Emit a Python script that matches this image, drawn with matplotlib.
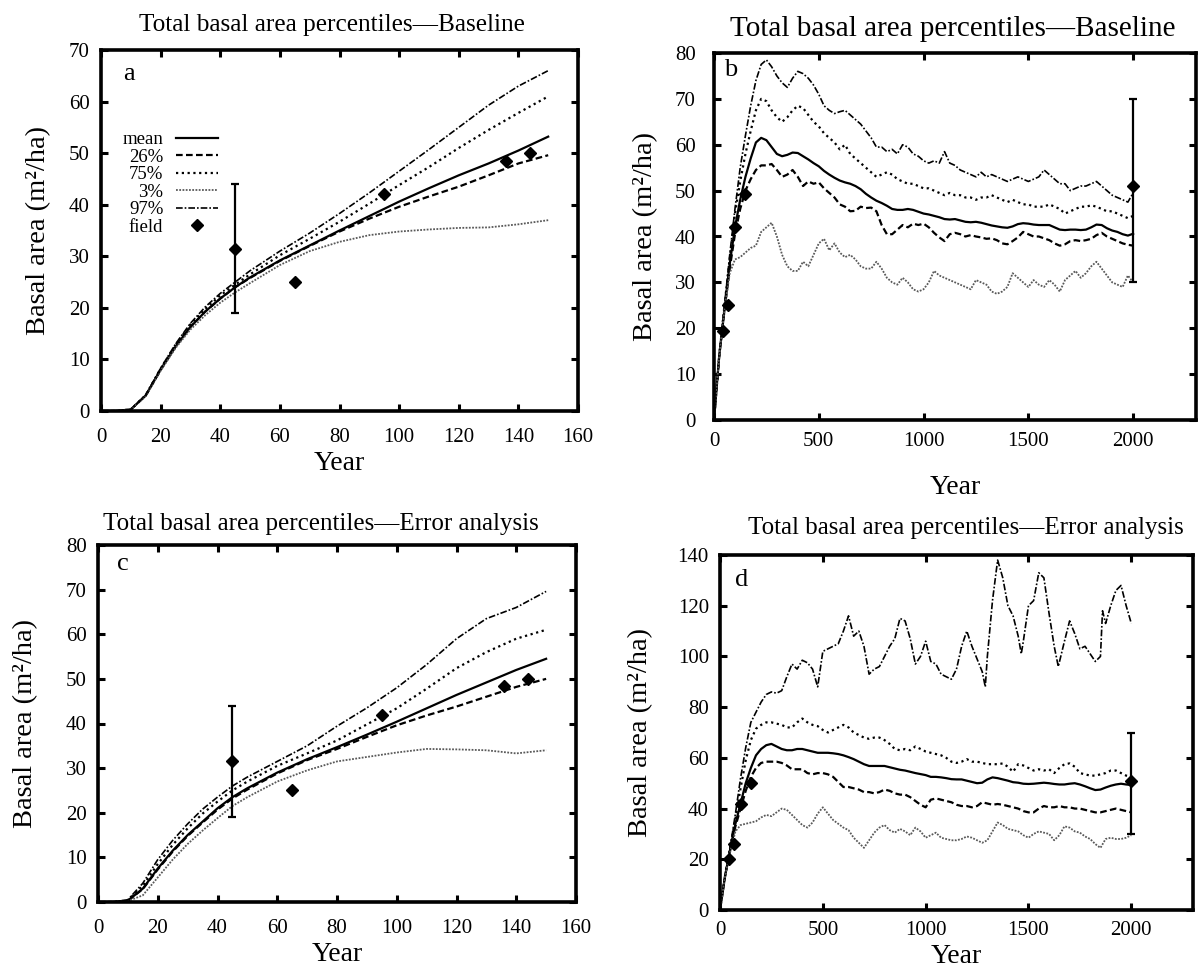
import numpy as np
import matplotlib
matplotlib.use("Agg")
import matplotlib.pyplot as plt

plt.rcParams['font.family'] = ['Liberation Serif', 'DejaVu Serif']

# ---------------- Panel a / c : first 150 years ----------------
years_short = [0, 5, 10, 15, 20, 25, 30, 35, 40, 45, 50, 60, 70, 80, 90, 100, 110, 120, 130, 140, 150]

a_mean = [0, 0, 0.3, 3.0, 8.0, 12.5, 16.3, 19.3, 21.8, 24.0, 25.9, 29.2, 32.1, 35.0, 37.8, 40.6, 43.2, 45.7, 48.0, 50.5, 53.2]
a_p26  = [0, 0, 0.3, 3.0, 8.0, 12.5, 16.3, 19.3, 21.8, 24.0, 25.8, 29.1, 32.0, 34.8, 37.3, 39.6, 41.6, 43.5, 45.7, 48.0, 49.6]
a_p75  = [0, 0, 0.3, 3.1, 8.2, 12.8, 16.8, 19.8, 22.4, 24.5, 26.5, 30.2, 33.4, 36.7, 40.2, 43.8, 47.3, 51.0, 54.5, 57.8, 61.0]
a_p3   = [0, 0, 0.3, 2.9, 7.8, 12.2, 15.8, 18.6, 21.0, 23.0, 24.8, 28.3, 31.0, 32.8, 34.1, 34.8, 35.2, 35.5, 35.6, 36.2, 37.0]
a_p97  = [0, 0, 0.3, 3.1, 8.3, 13.0, 17.0, 20.2, 22.8, 25.0, 27.2, 31.0, 34.5, 38.3, 42.3, 46.5, 50.7, 55.0, 59.3, 63.0, 66.0]

c_mean = [0, 0, 0.3, 3.0, 7.5, 11.5, 15.0, 18.0, 21.0, 23.5, 25.5, 29.0, 32.0, 34.7, 37.5, 40.4, 43.4, 46.4, 49.2, 52.0, 54.5]
c_p26  = [0, 0, 0.3, 2.9, 7.3, 11.3, 14.8, 17.8, 20.7, 23.2, 25.2, 28.8, 31.8, 34.3, 37.0, 39.6, 41.8, 43.8, 46.0, 48.2, 50.0]
c_p75  = [0, 0, 0.4, 3.6, 8.5, 12.8, 16.5, 19.8, 22.5, 25.0, 27.0, 30.5, 33.3, 36.2, 39.8, 43.4, 47.8, 52.4, 56.0, 59.0, 61.0]
c_p3   = [0, 0, 0.2, 1.5, 5.5, 9.5, 13.0, 16.0, 18.8, 21.5, 23.5, 27.0, 29.5, 31.5, 32.5, 33.5, 34.3, 34.2, 34.0, 33.3, 34.0]
c_p97  = [0, 0, 0.5, 4.2, 9.5, 13.8, 17.5, 20.8, 23.5, 26.0, 28.0, 31.5, 35.0, 39.4, 43.5, 48.0, 53.2, 59.0, 63.5, 66.0, 69.6]

field_years_ac = [45, 65, 95, 136, 144]
field_vals_ac  = [31.5, 25.0, 42.0, 48.5, 50.0]
err_year_ac = 45
err_low_ac, err_high_ac = 19.0, 44.0

# ---------------- Panel b / d : 2000 years ----------------
years_long = list(range(0, 2001, 25))

b_p97 = [0, 14, 25, 36, 46, 55, 62, 68.5, 74, 77.5, 78.5, 77, 75, 73.5, 72.5, 74.5, 76, 75.5, 74.5, 73,
         71, 68.5, 67.5, 66.8, 67.2, 67.5, 66.5, 65.5, 64.5, 63, 61.5, 59.5, 59.5, 58.5, 59, 58, 60, 59.5, 58, 57.5,
         56.5, 56, 56.5, 56, 58.5, 56, 55.5, 54.5, 54, 53.5, 53, 54, 53, 53.5, 53, 52.5, 52, 52.5, 53, 52.5,
         52, 52.5, 53, 54.5, 53.5, 52.5, 51.5, 51.5, 50, 50.5, 51, 51, 51.5, 52, 51, 50, 49, 48.5, 48, 47.5, 49.5]
b_p75 = [0, 14, 25, 35, 45, 52, 58, 63, 67.5, 70, 69.5, 67.5, 66, 65, 66, 67.5, 68.5, 68, 66.5, 65,
         64, 62.5, 61.5, 60.5, 59, 60, 58, 57, 56, 55, 54, 53, 53.5, 54, 53.5, 52.5, 52, 51.5, 51.5, 51,
         50.5, 50.5, 50, 49.5, 49, 49.5, 49, 49, 48.5, 48.5, 48, 48.5, 48.5, 49, 48.5, 48, 47.5, 48, 47.5, 47,
         47, 46.5, 46.5, 46.5, 47, 46.5, 46, 45, 45.5, 46, 46.5, 46.5, 46.8, 46.5, 46, 45.5, 45.5, 45, 44.5, 44, 44.5]
b_mean = [0, 14, 24, 34, 42, 48, 53, 57, 60.5, 61.5, 61, 59.5, 58, 57.5, 57.8, 58.3, 58.2, 57.5, 56.8, 56,
          55.3, 54.3, 53.5, 52.8, 52.2, 51.8, 51.5, 51, 50.3, 49.3, 48.5, 47.8, 47.3, 46.7, 46, 45.8, 45.8, 46, 45.8, 45.4,
          45, 44.8, 44.5, 44.2, 43.8, 43.7, 43.8, 43.5, 43.2, 43.1, 43.2, 43, 42.7, 42.4, 42.2, 42, 41.9, 42.2, 42.7, 42.9,
          42.8, 42.6, 42.5, 42.5, 42.5, 42, 41.5, 41.4, 41.5, 41.5, 41.4, 41.5, 42, 42.6, 42.5, 41.8, 41.3, 41, 40.5, 40.2, 40.6]
b_p26 = [0, 14, 24, 33, 40.5, 46, 50, 52.5, 54.5, 55.5, 55.5, 55.8, 54.5, 53, 53.5, 54.5, 53, 51, 52, 51.5,
         51.8, 50.5, 49.5, 48.5, 47, 46.5, 45.5, 45.6, 46.5, 46.2, 46.3, 45.5, 42.5, 40.5, 40.5, 41.5, 42.5, 42, 42.8, 42.5,
         42.8, 42, 40.8, 39.8, 39, 40.5, 40.8, 40.5, 40, 40.3, 40, 39.8, 39.5, 39.6, 39.2, 38.5, 38.3, 39, 39.8, 41,
         40.5, 40, 40, 39.6, 39.2, 38.5, 38, 38.3, 39, 39.2, 39, 39.2, 39.5, 40.3, 40.8, 40, 39.5, 39, 38.5, 38.2, 38]
b_p3 = [0, 14, 24, 32, 35, 35.5, 36.5, 37.5, 38, 41, 42, 43, 40, 36, 33.5, 32.5, 32.5, 34.5, 33.5, 36,
        38.5, 39.5, 37, 38.5, 36.5, 35.5, 36, 35, 33.5, 33, 33, 34.5, 33, 31, 30, 29.5, 31, 30, 28.5, 28,
        28.5, 30, 32.5, 31.5, 31, 30.5, 30, 29.5, 29, 28.5, 30.5, 30, 29.5, 28, 27.5, 28, 29, 32, 31, 30,
        29, 30.5, 29.5, 29, 30.5, 29.5, 28, 30.5, 31.5, 32.5, 31, 32, 33.5, 34.5, 33, 31.5, 30, 29.5, 29, 31.5, 30]

field_years_b = [43, 67, 100, 148]
field_vals_b  = [19.3, 25.0, 42.0, 49.3]
field_years_d = [45, 67, 100, 149]
field_vals_d  = [20.0, 26.0, 42.0, 50.0]
err_year_bd = 2000
err_val_b, err_low_b, err_high_b = 51.0, 30.0, 70.0
err_val_d, err_low_d, err_high_d = 51.0, 30.0, 70.0

years_d97 = [0, 25, 50, 75, 100, 125, 150, 175, 200, 225, 250, 275, 300, 325, 350, 375, 400, 425, 450, 475,
             500, 525, 550, 575, 600, 625, 650, 675, 700, 725, 750, 775, 800, 825, 850, 875, 900, 925, 950, 975,
             1000, 1025, 1050, 1075, 1100, 1125, 1150, 1175, 1200, 1225, 1250, 1275, 1290, 1300, 1325, 1350, 1375,
             1400, 1425, 1450, 1465, 1475, 1500, 1525, 1550, 1575, 1600, 1625, 1645, 1675, 1700, 1725, 1750, 1775,
             1800, 1825, 1850, 1860, 1875, 1900, 1925, 1950, 1975, 2000]
d_p97 = [0, 14, 25, 38, 52, 64, 74, 78, 82, 85, 86, 85.5, 86.5, 92, 97, 95, 98.5, 97.5, 95, 88,
         102, 103, 104, 105, 110, 116, 108, 110, 104, 93, 95, 96, 100, 104, 107, 115, 114, 107, 97, 100,
         106, 98, 97, 93, 92, 91, 95, 104, 110, 104, 99, 94, 88, 100, 122, 138, 131,
         120, 116, 108, 101, 106, 120, 122, 133, 131, 117, 104, 96, 106, 114, 109, 103, 104,
         101, 98, 100, 118, 113, 120, 126, 128, 120, 113]
d_p75 = [0, 14, 25, 36, 48, 59, 67, 71.5, 73, 74, 74, 73.5, 73, 72, 72, 74, 75.5, 74, 73, 72.5,
         71, 70, 71, 72, 73, 72, 70, 69, 68, 67.5, 68, 68, 67, 65.5, 63.5, 63, 63.5, 63, 64.5, 63.5,
         62.5, 62, 61.5, 61, 60, 58.5, 58, 58.5, 59.5, 58.5, 58.5, 58, 57.5, 57.5, 57.5, 57.8, 56.5, 54.5, 57.5, 57,
         56, 55, 55.5, 55, 55.5, 54, 56, 57.5, 57.8, 56.5, 54, 53.5, 53, 53, 53.5, 54, 55, 55, 54, 53, 52.5]
d_mean = [0, 13.5, 24, 34, 42, 50, 56, 61, 63.5, 65, 65.5, 64.5, 63.5, 63, 63, 63.5, 63.5, 63, 62.5, 62,
          62, 62, 61.8, 61.5, 61, 60.3, 59.5, 58.5, 57.5, 56.8, 56.8, 56.8, 56.8, 56.3, 55.8, 55.3, 55, 54.5, 54, 53.6,
          53.2, 52.5, 52.5, 52.3, 52, 51.6, 51.5, 51.5, 51, 50.5, 50, 50.2, 51.5, 52.3, 52, 51.5, 51, 50.4, 50.2, 49.8,
          49.7, 49.8, 50, 50.2, 50, 49.7, 49.5, 49.5, 49.8, 50, 49.5, 48.8, 48, 47.3, 47.5, 48.3, 49, 49.5, 49.8, 49.5, 49.3]
d_p26 = [0, 13.5, 24, 33, 40, 47, 52.5, 56, 58, 58.5, 58.5, 58.5, 58, 57, 55.5, 55.5, 55.5, 54, 53.5, 54,
         54, 53.5, 52.5, 50.5, 48.5, 48.5, 48, 47.5, 46.5, 46.5, 46, 46.5, 47.5, 47, 46, 45.5, 45.5, 44.5, 43, 41.5,
         40.5, 43.5, 44, 43.5, 43, 42.5, 41.5, 41, 41, 40.5, 41, 42.5, 42, 41.5, 41.8, 41.5, 41, 40.5, 40, 39,
         38.5, 38.5, 40, 41, 40.5, 40.5, 41, 40.5, 40.5, 40, 40, 39.5, 39, 38.5, 38.5, 39, 39.5, 40, 39.5, 39, 38.5]
d_p3 = [0, 13.5, 23, 31, 33.5, 34, 34.5, 35, 36.5, 37.5, 37, 38.5, 40, 39.5, 37.5, 35.5, 33.5, 32.5, 34.5, 38,
        40.5, 38, 35.5, 34, 32.5, 31.5, 28.5, 26.5, 24.5, 27.5, 30.5, 32.5, 33.5, 31.5, 30.5, 32, 31, 29.5, 32.5, 31,
        28.5, 29.5, 30.5, 28.5, 28, 27.5, 27.5, 28, 29, 28.5, 27.5, 26.5, 27.5, 31, 34.5, 33.5, 32, 31.5, 31, 29.5,
        28.5, 30, 31, 30.5, 30, 27.5, 29.5, 33, 32.5, 31, 30.5, 29, 28, 26, 24.5, 28, 28.5, 28, 28, 28.5, 29.5]

# ---------------- Styles ----------------
st_mean = dict(color='black', lw=1.6, ls='-')
st_p26 = dict(color='black', lw=1.6, ls=(0, (3, 1.5)))
st_p75 = dict(color='black', lw=1.6, ls=(0, (1, 1.6)))
st_p3 = dict(color='0.35', lw=1.3, ls=(0, (1, 0.8)))
st_p97 = dict(color='black', lw=1.2, ls=(0, (4, 1.2, 1, 1.2)))

W, H = 1203, 973
fig = plt.figure(figsize=(W / 100, H / 100), dpi=100)


def add_ax(l, r, t, b):
    return fig.add_axes([l / W, 1 - b / H, (r - l) / W, (b - t) / H])


ax_a = add_ax(101, 578, 50, 411)
ax_b = add_ax(714, 1196, 53, 420)
ax_c = add_ax(98, 576, 545, 902)
ax_d = add_ax(720, 1193, 555, 910)


def style(ax, xlim, ylim, xticks, yticks, title, letter, lpos,
          xpad=10, ypad=8, xlabelpad=3, ylabelpad=8,
          title_x=0.5, title_size=18, title_pad=14):
    ax.set_xlim(*xlim)
    ax.set_ylim(*ylim)
    ax.set_xticks(xticks)
    ax.set_yticks(yticks)
    for s in ax.spines.values():
        s.set_linewidth(2.6)
    ax.tick_params(direction='in', length=5, width=2.2, top=True, right=True,
                   labelsize=15)
    ax.tick_params(axis='x', pad=xpad)
    ax.tick_params(axis='y', pad=ypad)
    ax.set_xlabel('Year', fontsize=20, labelpad=xlabelpad)
    ax.set_ylabel('Basal area (m²/ha)', fontsize=20.5, labelpad=ylabelpad)
    ax.set_title(title, fontsize=title_size, pad=title_pad, x=title_x)
    ax.text(lpos[0], lpos[1], letter, transform=ax.transAxes, fontsize=19,
            ha='center', va='center')


def draw_short(ax, mean, p26, p75, p3, p97, legend=False):
    ax.plot(years_short, mean, label='mean', **st_mean)
    ax.plot(years_short, p26, label='26%', **st_p26)
    ax.plot(years_short, p75, label='75%', **st_p75)
    ax.plot(years_short, p3, label='3%', **st_p3)
    ax.plot(years_short, p97, label='97%', **st_p97)
    ax.errorbar([err_year_ac], [field_vals_ac[0]],
                yerr=[[field_vals_ac[0] - err_low_ac], [err_high_ac - field_vals_ac[0]]],
                fmt='none', ecolor='black', elinewidth=1.6, capsize=3, capthick=1.6)
    ax.plot(field_years_ac, field_vals_ac, ls='none', marker='D', ms=6,
            color='black', label='field')
    if legend:
        ax.legend(loc='upper left', bbox_to_anchor=(0.045, 0.775), frameon=False,
                  markerfirst=False, fontsize=13.5, labelspacing=0.02,
                  handlelength=2.2, handletextpad=0.7, borderpad=0, borderaxespad=0)


draw_short(ax_a, a_mean, a_p26, a_p75, a_p3, a_p97, legend=True)
style(ax_a, (0, 160), (0, 70), range(0, 161, 20), range(0, 71, 10),
      'Total basal area percentiles—Baseline', 'a', (0.059, 0.933),
      xpad=12, ypad=8, ylabelpad=13, title_x=0.485, title_size=18.2, title_pad=14)

draw_short(ax_c, c_mean, c_p26, c_p75, c_p3, c_p97)
style(ax_c, (0, 160), (0, 80), range(0, 161, 20), range(0, 81, 10),
      'Total basal area percentiles—Error analysis', 'c', (0.052, 0.946),
      xpad=12, ypad=8, ylabelpad=20, title_x=0.467, title_size=18, title_pad=11)

# panel b
ax_b.plot(years_long, b_p97, **st_p97)
ax_b.plot(years_long, b_p75, **st_p75)
ax_b.plot(years_long, b_mean, **st_mean)
ax_b.plot(years_long, b_p26, **st_p26)
ax_b.plot(years_long, b_p3, **st_p3)
ax_b.errorbar([err_year_bd], [err_val_b],
              yerr=[[err_val_b - err_low_b], [err_high_b - err_val_b]],
              fmt='none', ecolor='black', elinewidth=1.6, capsize=3, capthick=1.6)
ax_b.plot(field_years_b + [err_year_bd], field_vals_b + [err_val_b], ls='none',
          marker='D', ms=6, color='black')
style(ax_b, (0, 2300), (0, 80), range(0, 2001, 500), range(0, 81, 10),
      'Total basal area percentiles—Baseline', 'b', (0.035, 0.953),
      xpad=9, ypad=13, xlabelpad=17, ylabelpad=12,
      title_x=0.495, title_size=21, title_pad=12)

# panel d
ax_d.plot(years_d97, d_p97, **st_p97)
ax_d.plot(years_long, d_p75, **st_p75)
ax_d.plot(years_long, d_mean, **st_mean)
ax_d.plot(years_long, d_p26, **st_p26)
ax_d.plot(years_long, d_p3, **st_p3)
ax_d.errorbar([err_year_bd], [err_val_d],
              yerr=[[err_val_d - err_low_d], [err_high_d - err_val_d]],
              fmt='none', ecolor='black', elinewidth=1.6, capsize=3, capthick=1.6)
ax_d.plot(field_years_d + [err_year_bd], field_vals_d + [err_val_d], ls='none',
          marker='D', ms=6, color='black')
style(ax_d, (0, 2300), (0, 140), range(0, 2001, 500), range(0, 141, 20),
      'Total basal area percentiles—Error analysis', 'd', (0.045, 0.93),
      xpad=8, ypad=8, ylabelpad=18, title_x=0.52, title_size=18, title_pad=15)

fig.savefig('out.png', dpi=100)
